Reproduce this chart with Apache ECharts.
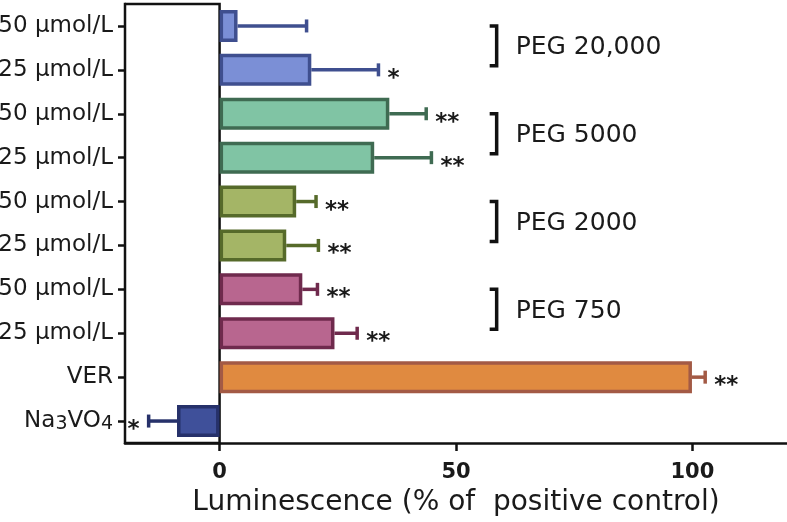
<!DOCTYPE html>
<html><head><meta charset="utf-8">
<script src="https://cdn.jsdelivr.net/npm/echarts@6/dist/echarts.min.js"></script>
<style>html,body{margin:0;padding:0;background:#fff}#c{width:787px;height:522px}</style>
</head><body><div id="c"></div>
<script>
// ---- data (top row first) ----
const categories = ['50 µmol/L','25 µmol/L','50 µmol/L','25 µmol/L','50 µmol/L','25 µmol/L','50 µmol/L','25 µmol/L','VER','Na3VO4'];
const means  = [3.8, 19.4, 35.9, 32.7, 16.2, 14.1, 17.5, 24.3, 99.9, -9.0];
const errors = [14.6, 14.2, 7.8, 12.1, 4.2, 6.8, 3.2, 4.8, 2.8, 6.0];
const stars  = ['', '*', '**', '**', '**', '**', '**', '**', '**', '*'];
const groupLabels = ['PEG 20,000', 'PEG 5000', 'PEG 2000', 'PEG 750'];
const groupRows = [[0, 1], [2, 3], [4, 5], [6, 7]];
const xTicks = [0, 50, 100];
const xMin = -20, xMax = 120;

// ---- styles ----
const fills   = ['#7b8fd6','#7b8fd6','#80c4a4','#80c4a4','#a4b566','#a4b566','#b8668f','#b8668f','#e08a40','#3f509a'];
const borders = ['#3f4f8f','#3f4f8f','#3f6b52','#3f6b52','#566a2a','#566a2a','#6f2a4d','#6f2a4d','#a35a45','#26316a'];
const FONT = 'DejaVu Sans';
const bracketX = 58.6;

const chart = echarts.init(document.getElementById('c'));
chart.setOption({
  backgroundColor: '#fff',
  animation: false,
  grid: { left: 125, right: 0, top: 4, bottom: 79, containLabel: false, outerBoundsMode: 'none' },
  xAxis: {
    type: 'value', min: xMin, max: xMax,
    name: 'Luminescence (% of  positive control)',
    nameLocation: 'middle', nameGap: 46,
    nameTextStyle: { fontFamily: FONT, fontSize: 28, color: '#1a1a1a' },
    axisLine: { show: true, lineStyle: { color: '#111', width: 2.5 } },
    axisTick: { show: true, length: 8, lineStyle: { color: '#111', width: 2.5 }, customValues: xTicks },
    axisLabel: { customValues: xTicks, fontFamily: FONT, fontSize: 21, fontWeight: 'bold', color: '#1a1a1a', margin: 19 },
    splitLine: { show: false }
  },
  yAxis: {
    type: 'category', inverse: true, data: categories,
    axisLine: { show: true, onZero: false, lineStyle: { color: '#111', width: 2.5 } },
    axisTick: { show: true, alignWithLabel: true, length: 7, lineStyle: { color: '#111', width: 2.5 } },
    axisLabel: {
      fontFamily: FONT, fontSize: 23, color: '#1a1a1a', margin: 12,
      formatter: v => v === 'Na3VO4' ? '{n|Na}{s|3}{n|VO}{s|4}' : v,
      rich: {
        n: { fontFamily: FONT, fontSize: 23, color: '#1a1a1a' },
        s: { fontFamily: FONT, fontSize: 19, color: '#1a1a1a', padding: [7, 0, 0, 0] }
      }
    },
    splitLine: { show: false }
  },
  series: [
    {
      type: 'line', z: 1, data: [], silent: true,
      markArea: {
        silent: true,
        itemStyle: { color: '#fff', borderColor: '#111', borderWidth: 2.5 },
        data: [[{ xAxis: xMin }, { xAxis: 0 }]]
      }
    },
    {
      type: 'bar', z: 3, barCategoryGap: '27%',
      data: means.map((m, i) => ({ value: m, itemStyle: { color: fills[i], borderColor: borders[i], borderWidth: 3.5 } }))
    },
    {
      type: 'custom', z: 4, clip: false,
      data: means.map((m, i) => [m, i, errors[i]]),
      encode: { x: 0, y: 1 },
      renderItem: (params, api) => {
        const i = api.value(1), m = api.value(0), e = api.value(2);
        const dir = m < 0 ? -1 : 1;
        const p0 = api.coord([m, i]);
        const p1 = api.coord([m + dir * e, i]);
        const col = borders[params.dataIndex];
        const capH = 13;
        return {
          type: 'group',
          children: [
            { type: 'line', shape: { x1: p0[0], y1: p0[1], x2: p1[0], y2: p1[1] }, style: { stroke: col, lineWidth: 3.5 } },
            { type: 'line', shape: { x1: p1[0], y1: p1[1] - capH / 2, x2: p1[0], y2: p1[1] + capH / 2 }, style: { stroke: col, lineWidth: 3.5 } },
            { type: 'text', style: {
                text: stars[params.dataIndex], x: p1[0] + dir * 9, y: p1[1] + 9,
                align: dir > 0 ? 'left' : 'right', verticalAlign: 'middle',
                fontFamily: FONT, fontSize: 23, fontWeight: 'bold', fill: '#1a1a1a' } }
          ]
        };
      }
    },
    {
      type: 'custom', z: 4, clip: false,
      data: groupRows.map(r => [bracketX, r[0], r[1]]),
      encode: { x: 0, y: 1 },
      renderItem: (params, api) => {
        const a = api.coord([api.value(0), api.value(1)]);
        const b = api.coord([api.value(0), api.value(2)]);
        const top = a[1], bot = b[1] - 4, x = a[0];
        return {
          type: 'group',
          children: [
            { type: 'polyline', shape: { points: [[x - 7, top], [x, top], [x, bot], [x - 7, bot]] }, style: { stroke: '#111', lineWidth: 3.5, fill: null } },
            { type: 'text', style: { text: groupLabels[params.dataIndex], x: x + 19, y: (a[1] + b[1]) / 2, align: 'left', verticalAlign: 'middle', fontFamily: FONT, fontSize: 25, fill: '#1a1a1a' } }
          ]
        };
      }
    }
  ]
});
</script></body></html>
